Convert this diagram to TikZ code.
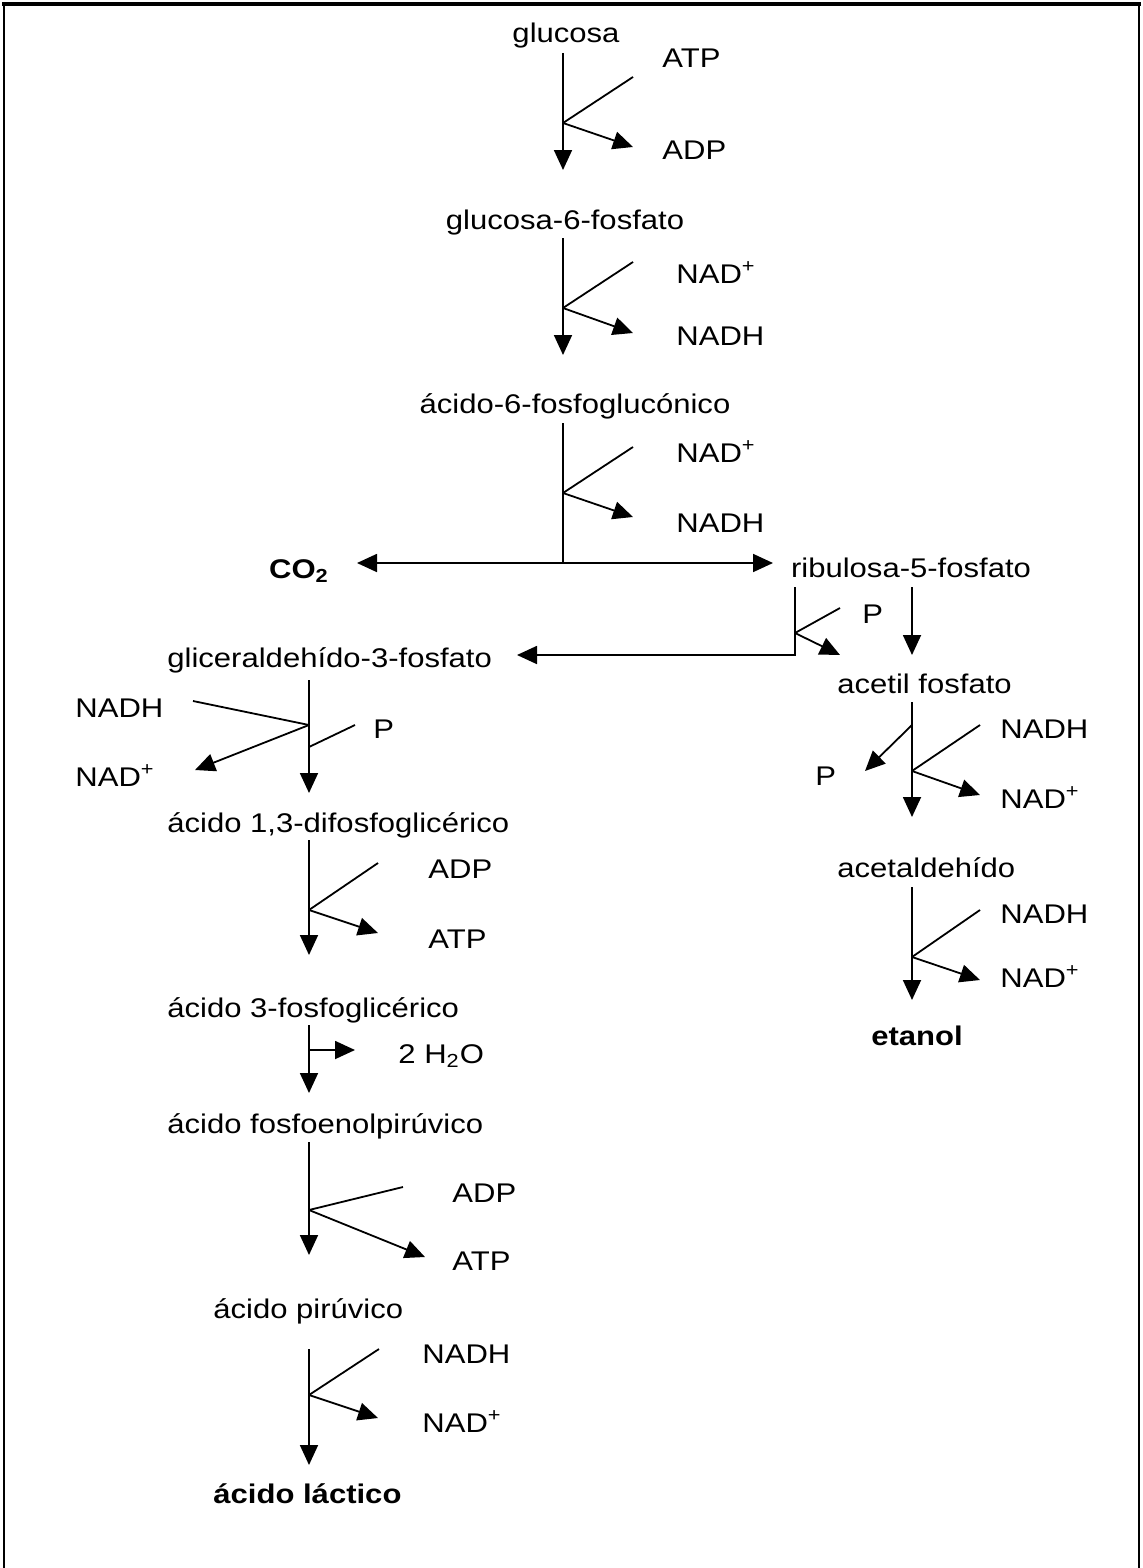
\documentclass[tikz,border=0pt]{standalone}
\usepackage{fontspec}
\setmainfont[FakeStretch=1.15]{Liberation Sans}
\usetikzlibrary{arrows.meta}
\tikzset{font=\fontsize{13.5}{16}\selectfont}
\tikzset{every node/.append style={inner sep=0pt}}
\tikzset{met/.style={anchor=base}, metw/.style={anchor=base west}, cof/.style={anchor=base west}}
\tikzset{seg/.style={line width=0.9pt}, flow/.style={seg,-{Triangle[length=10pt,width=9pt]}}}

\begin{document}
\begin{tikzpicture}[x=0.5pt,y=-0.5pt]
  \useasboundingbox (0,0) rectangle (1143,1568);
  \draw[line width=2pt] (2,4)--(1141,4);
  \draw[line width=1.2pt] (4,4)--(4,1568);
  \draw[line width=1.2pt] (1139,4)--(1139,1568);

  % compuestos
  \node[met] (glu) at (566,43) {glucosa};
  \node[met] (g6p) at (565,229) {glucosa-6-fosfato};
  \node[met] (a6p) at (575,413) {ácido-6-fosfoglucónico};
  \node[met] (co2) at (299,578) {\bfseries CO\textsubscript{2}};
  \node[met] (rib) at (911,577) {ribulosa-5-fosfato};
  \node[metw] (gap) at (167,667) {gliceraldehído-3-fosfato};
  \node[metw] (acp) at (837,693) {acetil fosfato};
  \node[metw] (dpg) at (167,832) {ácido 1,3-difosfoglicérico};
  \node[metw] (ald) at (837,877) {acetaldehído};
  \node[metw] (pga) at (167,1017) {ácido 3-fosfoglicérico};
  \node[met] (eta) at (917,1045) {\bfseries etanol};
  \node[metw] (pep) at (167,1133) {ácido fosfoenolpirúvico};
  \node[metw] (pir) at (213,1318) {ácido pirúvico};
  \node[metw] (lac) at (213,1503) {\bfseries ácido láctico};

  % cofactores
  \node[cof] (atp1) at (662,68) {ATP};
  \node[cof] (adp1) at (662,159) {ADP};
  \node[cof] (nad2) at (676,283) {NAD\textsuperscript{+}};
  \node[cof] (nadh2) at (676,345) {NADH};
  \node[cof] (nad3) at (676,462) {NAD\textsuperscript{+}};
  \node[cof] (nadh3) at (676,532) {NADH};
  \node[cof] (p1) at (862,623) {P};
  \node[cof] (nadh4) at (75,717) {NADH};
  \node[cof] (nad4) at (75,786) {NAD\textsuperscript{+}};
  \node[cof] (p2) at (373,738) {P};
  \node[cof] (adp5) at (428,878) {ADP};
  \node[cof] (atp5) at (428,948) {ATP};
  \node[cof] (hoh) at (398,1063) {2 H\textsubscript{2}O};
  \node[cof] (adp6) at (452,1202) {ADP};
  \node[cof] (atp6) at (452,1270) {ATP};
  \node[cof] (nadh7) at (422,1363) {NADH};
  \node[cof] (nad7) at (422,1432) {NAD\textsuperscript{+}};
  \node[cof] (nadh8) at (1000,738) {NADH};
  \node[cof] (nad8) at (1000,808) {NAD\textsuperscript{+}};
  \node[cof] (p3) at (815,785) {P};
  \node[cof] (nadh9) at (1000,923) {NADH};
  \node[cof] (nad9) at (1000,987) {NAD\textsuperscript{+}};

  % pasos con cofactor que entra y sale
  \foreach \s/\x/\ya/\yb/\yj/\xi/\yi/\xo/\yo in {
      a/563/53/170/123/633/77/633/147,
      b/563/238/355/308/633/262/633/333,
      c/309/680/793/725/193/701/195/770,
      d/309/840/955/910/378/863/378/933,
      e/309/1142/1255/1210/403/1187/425/1257,
      f/309/1349/1465/1395/379/1349/378/1418,
      g/912/702/817/771/980/725/980/795,
      h/912/887/1000/957/980/910/980/980}{
    \coordinate (top\s) at (\x,\ya);
    \coordinate (tip\s) at (\x,\yb);
    \coordinate (jn\s) at (\x,\yj);
    \coordinate (in\s) at (\xi,\yi);
    \coordinate (out\s) at (\xo,\yo);
    \draw[flow] (top\s)--(tip\s);
    \draw[seg] (in\s)--(jn\s);
    \draw[flow] (jn\s)--(out\s);
  };

  % acido-6-fosfogluconico -> CO2 + ribulosa
  \coordinate (topk) at (563,423);
  \coordinate (jnk) at (563,493);
  \coordinate (ink) at (633,447);
  \coordinate (outk) at (633,517);
  \coordinate (fork) at (563,563);
  \coordinate (co2t) at (357,563);
  \coordinate (ribt) at (773,563);
  \draw[seg] (topk)--(fork);
  \draw[seg] (ink)--(jnk);
  \draw[flow] (jnk)--(outk);
  \draw[flow] (fork)--(co2t);
  \draw[flow] (fork)--(ribt);

  % ribulosa -> gliceraldehido + acetil fosfato
  \coordinate (rl) at (795,587);
  \coordinate (rc) at (795,655);
  \coordinate (rj) at (795,633);
  \coordinate (rpi) at (840,608);
  \coordinate (rpo) at (840,655);
  \coordinate (gapt) at (517,655);
  \coordinate (rr) at (912,587);
  \coordinate (rrt) at (912,655);
  \draw[flow] (rl)--(rc)--(gapt);
  \draw[seg] (rpi)--(rj);
  \draw[flow] (rj)--(rpo);
  \draw[flow] (rr)--(rrt);

  % fosfato que entra / sale
  \coordinate (pc1) at (355,725);
  \coordinate (pc2) at (309,747);
  \draw[seg] (pc1)--(pc2);
  \coordinate (pa1) at (912,725);
  \coordinate (pa2) at (865,771);
  \draw[flow] (pa1)--(pa2);

  % deshidratacion
  \coordinate (topm) at (309,1025);
  \coordinate (tipm) at (309,1093);
  \coordinate (jnm) at (309,1050);
  \coordinate (outm) at (355,1050);
  \draw[flow] (topm)--(tipm);
  \draw[flow] (jnm)--(outm);
\end{tikzpicture}
\end{document}
